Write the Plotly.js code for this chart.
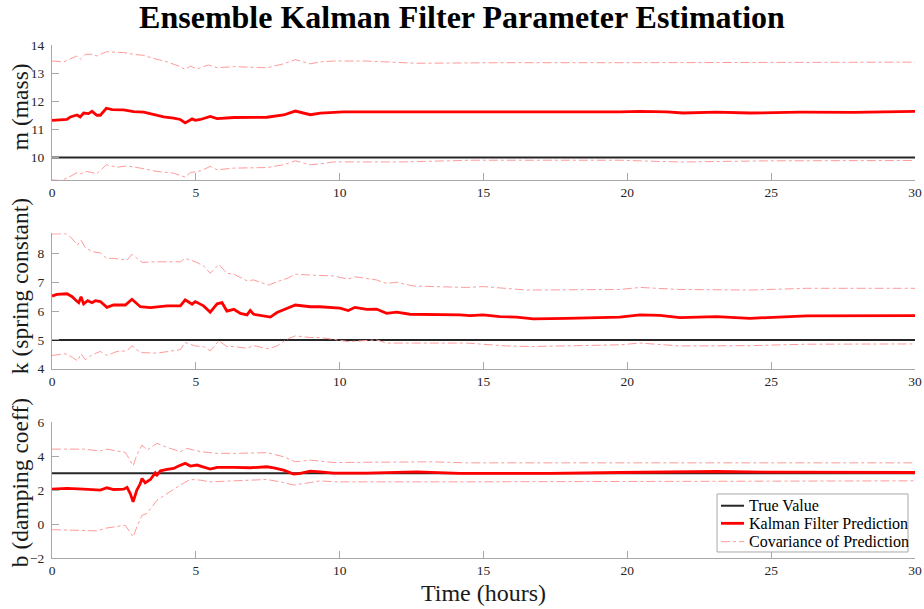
<!DOCTYPE html>
<html>
<head>
<meta charset="utf-8">
<script src="https://cdn.plot.ly/plotly-3.0.1.min.js"></script>
<style>html,body{margin:0;padding:0;background:#fff}#chart{width:924px;height:609px}</style>
</head>
<body>
<div id="chart"></div>
<script>
// ---- Data ----
const tTrue = [0, 30];
const mTrue = [10, 10];
const kTrue = [5, 5];
const bTrue = [3, 3];

// m (mass)
const tMPred = [0,0.52,0.64,0.87,0.98,1.10,1.27,1.39,1.56,1.68,1.89,2.09,2.49,2.84,3.19,3.53,3.88,4.23,4.46,4.63,4.87,4.98,5.16,5.50,5.74,6.32,7.47,8.05,8.46,8.98,9.33,10.13,11.52,12.67,14.18,16.73,19.74,20.44,21.37,21.94,23.10,24.26,26.0,27.85,29.24,30];
const mPred = [11.32,11.35,11.44,11.51,11.44,11.58,11.56,11.64,11.50,11.50,11.75,11.70,11.69,11.63,11.61,11.52,11.44,11.40,11.35,11.23,11.37,11.32,11.35,11.46,11.38,11.42,11.43,11.51,11.65,11.52,11.58,11.62,11.62,11.60,11.61,11.62,11.62,11.64,11.62,11.58,11.61,11.58,11.61,11.60,11.64,11.64];
const tMUp = [0,0.41,0.64,0.87,0.98,1.16,1.39,1.56,1.89,2.49,2.84,3.19,3.53,4.00,4.46,4.63,4.81,5.04,5.44,5.74,6.32,7.47,8.05,8.46,8.98,9.33,9.78,10.94,12.67,15.57,19.74,30];
const mUp = [13.43,13.40,13.51,13.61,13.49,13.67,13.67,13.61,13.76,13.73,13.67,13.63,13.52,13.40,13.23,13.13,13.25,13.15,13.29,13.19,13.23,13.19,13.33,13.48,13.33,13.40,13.43,13.43,13.35,13.37,13.37,13.39];
const tMLo = [0,0.29,0.52,0.87,0.98,1.22,1.56,1.89,2.26,2.61,3.07,3.65,4.23,4.63,4.81,5.16,5.50,5.74,6.32,7.47,8.05,8.46,8.98,9.33,9.78,12.09,14.64,19.74,21.37,21.94,25.0,30];
const mLo = [9.20,9.18,9.26,9.46,9.42,9.50,9.42,9.74,9.65,9.70,9.62,9.50,9.44,9.30,9.46,9.52,9.68,9.56,9.62,9.64,9.74,9.88,9.74,9.77,9.84,9.84,9.90,9.90,9.85,9.84,9.88,9.89];

// k (spring constant)
const tKPred = [0,0.17,0.52,0.70,0.81,0.93,1.01,1.10,1.24,1.39,1.51,1.68,1.91,2.14,2.55,2.78,3.07,3.42,4.00,4.46,4.63,4.87,4.98,5.27,5.50,5.74,5.91,6.08,6.32,6.55,6.78,6.89,7.01,7.47,7.59,7.82,8.17,8.46,8.98,9.31,10.01,10.30,10.53,10.94,11.28,11.63,11.98,12.44,14.18,14.53,14.99,15.57,16.15,16.73,17.89,19.74,20.44,21.13,21.83,23.10,24.26,25.42,26.23,30];
const kPred = [6.52,6.58,6.60,6.50,6.39,6.29,6.50,6.25,6.36,6.29,6.36,6.33,6.13,6.21,6.21,6.41,6.15,6.12,6.18,6.18,6.39,6.24,6.33,6.18,5.96,6.25,6.29,6.00,6.06,5.92,5.87,6.02,5.89,5.81,5.79,5.95,6.10,6.21,6.15,6.15,6.10,6.02,6.13,6.06,6.07,5.92,5.96,5.89,5.87,5.84,5.87,5.81,5.79,5.73,5.75,5.79,5.87,5.85,5.77,5.81,5.75,5.81,5.83,5.84];
const tKUp = [0,0.46,0.64,0.89,1.01,1.16,1.39,1.68,1.91,2.14,2.61,2.78,3.13,3.65,4.46,4.63,4.98,5.27,5.50,5.80,6.08,6.32,6.78,7.01,7.53,7.82,8.17,8.46,8.98,9.33,9.78,10.30,10.53,11.28,11.63,11.98,12.56,14.41,14.99,16.50,19.74,20.44,21.83,24.26,26.23,30];
const kUp = [8.67,8.69,8.58,8.29,8.46,8.20,8.06,8.02,7.83,7.83,7.77,7.97,7.69,7.71,7.71,7.83,7.71,7.57,7.31,7.62,7.31,7.28,7.05,7.08,6.90,7.02,7.13,7.28,7.25,7.23,7.22,7.11,7.19,7.08,6.96,7.00,6.87,6.82,6.85,6.73,6.75,6.82,6.75,6.73,6.79,6.79];
const tKLo = [0,0.46,0.70,0.89,1.01,1.16,1.39,1.68,1.91,2.26,2.61,2.78,3.07,3.65,4.46,4.63,4.98,5.27,5.50,5.80,6.08,6.32,6.78,7.01,7.53,7.82,8.17,8.46,8.98,9.33,9.78,10.30,11.28,11.63,12.56,14.41,15.80,16.73,19.74,20.44,21.83,24.26,26.23,30];
const kLo = [4.46,4.52,4.40,4.27,4.52,4.31,4.48,4.60,4.46,4.60,4.62,4.80,4.56,4.54,4.66,4.91,4.79,4.77,4.62,4.97,4.77,4.77,4.71,4.80,4.69,4.79,5.02,5.14,5.08,5.08,5.02,4.94,5.00,4.89,4.89,4.89,4.79,4.77,4.83,4.89,4.79,4.80,4.85,4.86];

// b (damping coeff)
const tBPred = [0,0.52,1.10,1.68,1.91,2.14,2.49,2.61,2.72,2.82,2.95,3.07,3.13,3.24,3.42,3.59,3.65,3.77,4.00,4.23,4.40,4.63,4.81,5.04,5.50,5.74,6.32,6.89,7.47,7.71,8.05,8.40,8.63,8.98,9.33,9.78,10.94,12.67,14.18,15.57,17.31,19.74,21.5,23.1,25.0,30];
const bPred = [2.06,2.10,2.06,2.00,2.14,2.04,2.06,2.16,1.80,1.31,2.00,2.39,2.69,2.43,2.63,3.02,2.89,3.14,3.22,3.28,3.42,3.58,3.42,3.48,3.24,3.34,3.34,3.32,3.38,3.32,3.18,2.95,2.99,3.12,3.08,3.00,3.00,3.08,2.99,2.99,2.99,3.04,3.08,3.10,3.06,3.04];
const tBUp = [0,1.10,1.68,1.91,2.26,2.55,2.82,2.95,3.13,3.30,3.65,4.00,4.46,4.69,5.16,5.74,6.32,7.47,8.05,8.46,8.98,9.33,9.78,13.25,14.41,30];
const bUp = [4.42,4.42,4.31,4.42,4.31,4.23,3.44,4.07,4.66,4.36,4.76,4.52,4.27,4.46,4.27,4.17,4.17,4.21,3.97,3.67,3.77,3.71,3.63,3.67,3.61,3.61];
const tBLo = [0,1.10,1.56,1.91,2.55,2.82,2.95,3.13,3.30,3.65,4.00,4.46,4.81,5.16,5.50,6.32,7.47,8.05,8.40,8.98,9.33,9.78,14.18,30];
const bLo = [-0.33,-0.36,-0.40,-0.23,-0.07,-0.76,-0.17,0.52,0.62,1.41,1.80,2.30,2.63,2.59,2.49,2.55,2.63,2.45,2.30,2.45,2.55,2.49,2.49,2.55];

const yTitles = ['m (mass)', 'k (spring constant)', 'b (damping coeff)'];
const legendNames = ['True Value', 'Kalman Filter Prediction', 'Covariance of Prediction'];

// ---- Styles ----
const FONT = "'Liberation Serif', 'Times New Roman', serif";
const trueStyle = {color: '#262626', width: 2};
const predStyle = {color: '#ff0000', width: 2.8};
const covStyle = {color: '#ff9a9a', width: 1, dash: 'dashdot'};
const legendStyles = [trueStyle, predStyle, covStyle];

function group(xa, ya, t, truth, tp, pred, tu, up, tl, lo) {
  return [
    {x: t, y: truth, xaxis: xa, yaxis: ya, mode: 'lines', line: trueStyle, name: legendNames[0]},
    {x: tp, y: pred, xaxis: xa, yaxis: ya, mode: 'lines', line: predStyle, name: legendNames[1]},
    {x: tu, y: up, xaxis: xa, yaxis: ya, mode: 'lines', line: covStyle, name: legendNames[2]},
    {x: tl, y: lo, xaxis: xa, yaxis: ya, mode: 'lines', line: covStyle, name: legendNames[2]}
  ];
}

const data = [].concat(
  group('x', 'y', tTrue, mTrue, tMPred, mPred, tMUp, mUp, tMLo, mLo),
  group('x2', 'y2', tTrue, kTrue, tKPred, kPred, tKUp, kUp, tKLo, kLo),
  group('x3', 'y3', tTrue, bTrue, tBPred, bPred, tBUp, bUp, tBLo, bLo)
);

const axisCommon = {
  showline: true, linecolor: '#a8a8a8', linewidth: 1, mirror: false,
  ticks: 'inside', ticklen: 7, tickcolor: '#a8a8a8', tickwidth: 1,
  showgrid: false, zeroline: false,
  tickfont: {family: FONT, size: 13.5, color: '#262626'}
};
function xax(anchor, extra) {
  return Object.assign({}, axisCommon, {anchor: anchor, range: [0, 30], tick0: 0, dtick: 5}, extra || {});
}
function yax(anchor, domain, range, dtick) {
  return Object.assign({}, axisCommon, {
    anchor: anchor, domain: domain, range: range, tick0: 0, dtick: dtick, ticklabelstandoff: 4
  });
}

// y-axis titles (positioned like the reference)
const titleYs = [0.879, 0.530, 0.146];
const annotations = yTitles.map((txt, i) => ({
  text: txt, textangle: -90, xref: 'paper', yref: 'paper', x: -0.037, y: titleYs[i],
  xanchor: 'center', yanchor: 'middle', showarrow: false,
  font: {family: FONT, size: 23.5, color: '#1a1a1a'}
}));

// legend box (paper coordinates), matching the reference placement
const legX0 = 0.7706, legX1 = 0.9919, legY0 = 0.0117, legY1 = 0.1248;
const sampX0 = 0.7752, sampX1 = 0.8019, textX = 0.8053;
const itemYs = [0.1019, 0.0676, 0.0318];
const shapes = [{type: 'rect', xref: 'paper', yref: 'paper', x0: legX0, x1: legX1, y0: legY0, y1: legY1,
                 fillcolor: '#ffffff', line: {color: '#a8a8a8', width: 1}, layer: 'above'}];
legendNames.forEach((nm, i) => {
  shapes.push({type: 'line', xref: 'paper', yref: 'paper', x0: sampX0, x1: sampX1, y0: itemYs[i], y1: itemYs[i],
               line: legendStyles[i], layer: 'above'});
  annotations.push({text: nm, xref: 'paper', yref: 'paper', x: textX, y: itemYs[i], xanchor: 'left', yanchor: 'middle',
                    showarrow: false, font: {family: FONT, size: 16, color: '#000'}});
});

const layout = {
  width: 924, height: 609,
  margin: {l: 52, r: 9, t: 45, b: 51},
  paper_bgcolor: '#ffffff', plot_bgcolor: '#ffffff',
  showlegend: false,
  hovermode: false,
  title: {text: 'Ensemble Kalman Filter Parameter Estimation', font: {family: FONT, size: 32, color: '#000', weight: 'bold'},
          x: 0.5, xref: 'container', xanchor: 'center', y: 0.972, yref: 'container', yanchor: 'middle'},
  xaxis: xax('y', {domain: [0, 1]}),
  xaxis2: xax('y2', {domain: [0, 1]}),
  xaxis3: xax('y3', {domain: [0, 1], title: {text: 'Time (hours)', font: {family: FONT, size: 24, color: '#1a1a1a'}, standoff: 6}}),
  yaxis: yax('x', [0.737, 1], [9.2, 14], 1),
  yaxis2: yax('x2', [0.369, 0.633], [4, 8.7], 1),
  yaxis3: yax('x3', [0, 0.2645], [-2, 6], 2),
  shapes: shapes,
  annotations: annotations
};

Plotly.newPlot('chart', data, layout, {displayModeBar: false, staticPlot: true});
</script>
</body>
</html>
